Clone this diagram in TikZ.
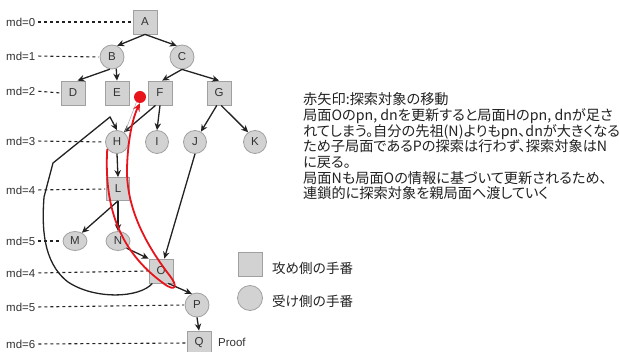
\documentclass[tikz,border=0pt]{standalone}
\usepackage{fontspec}
\setmainfont{Liberation Sans}
\newfontfamily\jp[RawFeature=+palt]{Noto Sans CJK JP}
\newfontfamily\jpm{Noto Sans CJK JP}
\usetikzlibrary{arrows.meta,shapes.geometric}
\definecolor{nodefill}{HTML}{D2D2D2}
\definecolor{nodeedge}{HTML}{A0A0A0}
\definecolor{ink}{HTML}{333333}
\definecolor{arr}{HTML}{222222}
\definecolor{redarr}{HTML}{E8141C}
\begin{document}
\begin{tikzpicture}[x=1pt,y=-1pt,
  lab/.style={font=\fontsize{11.5}{12}\selectfont, text=ink},
  sq/.style={lab, draw=nodeedge, fill=nodefill, line width=0.8pt, minimum size=24pt, inner sep=0pt},
  ci/.style={lab, circle, draw=nodeedge, fill=nodefill, line width=0.8pt, minimum size=24pt, inner sep=0pt},
  el/.style={lab, ellipse, draw=nodeedge, fill=nodefill, line width=0.8pt, minimum width=24pt, minimum height=19pt, inner sep=0pt},
  edge/.style={draw=arr, line width=1.3pt, -{Stealth[length=7pt,width=6.5pt]}},
  lvl/.style={draw=arr, line width=1.1pt, dash pattern=on 3pt off 3pt, shorten <=3pt, shorten >=1pt},
  mdl/.style={lab, anchor=west, inner sep=0pt},
  redpath/.style={draw=redarr, line width=1.8pt, -{Stealth[length=8pt,width=7pt]}},
  tl/.style={anchor=base west, inner sep=0pt, text=arr, font=\jp\fontsize{14.2}{16}\selectfont},
  lg/.style={anchor=west, inner sep=0pt, text=arr, font=\jpm\fontsize{13.5}{14}\selectfont}
]
\useasboundingbox (0,0) rectangle (620,352);
\fill[white] (0,0) rectangle (620,352);

% tree nodes
\node[sq] (A) at (145,22) {A};
\node[ci] (B) at (112,57) {B};
\node[ci] (C) at (182,57) {C};
\node[sq] (D) at (73,93) {D};
\node[sq] (E) at (117,93) {E};
\node[sq] (F) at (160,93) {F};
\node[sq] (G) at (219,93) {G};
\node[ci, minimum size=23pt] (H) at (117,142) {H};
\node[ci, minimum size=23pt] (I) at (157,142) {I};
\node[ci, minimum size=23pt] (J) at (195,142) {J};
\node[ci, minimum size=23pt] (K) at (255,142) {K};
\node[sq, minimum size=23pt] (L) at (118,189) {L};
\node[el] (M) at (75,241) {M};
\node[el] (N) at (118,241) {N};
\node[sq] (O) at (161,271) {O};
\node[ci, minimum size=24pt] (P) at (197,305) {P};
\node[sq] (Q) at (199,343) {Q};
\node[lab, anchor=west, inner sep=0pt] (proof) at (218,342) {Proof};
\node[circle, fill=redarr, minimum size=12pt, inner sep=0pt] (dot) at (140,97) {};

% md labels
\node[mdl] (m0) at (6,22) {md=0};
\node[mdl] (m1) at (6,56) {md=1};
\node[mdl] (m2) at (6,91) {md=2};
\node[mdl] (m3) at (6,141) {md=3};
\node[mdl] (m4) at (6,190) {md=4};
\node[mdl] (m5) at (6,241) {md=5};
\node[mdl] (m4b) at (6,273) {md=4};
\node[mdl] (m5b) at (6,307) {md=5};
\node[mdl] (m6) at (6,344) {md=6};
\draw[lvl] (m0.east) -- (A.west);
\draw[lvl] (m1.east) -- (B.west);
\draw[lvl] (m2.east) -- (D.west);
\draw[lvl] (m3.east) -- (H.west);
\draw[lvl] (m4.east) -- (L.west);
\draw[lvl] (m5.east) -- (M.west);
\draw[lvl] (m4b.east) -- (O.west);
\draw[lvl] (m5b.east) -- (P.west);
\draw[lvl] (m6.east) -- (Q.west);

% edges
\draw[edge] (A.south) -- (B.65);
\draw[edge] (A.south) -- (C.115);
\draw[edge] (B.260) -- (D.70);
\draw[edge] (B.290) -- (E.north);
\draw[edge] (C.south) -- (F.80);
\draw[edge] (C.south) -- (G.north);
\draw[edge] (F.250) -- (H.55);
\draw[edge] (F.south) -- (I.north);
\draw[edge] (G.260) -- (J.60);
\draw[edge] (G.280) -- (K.125);
\draw[edge] (H.south) -- (L.north);
\draw[edge] (L.south) -- (M.50);
\draw[edge] (L.south) -- (N.north);
\draw[edge] (J.south) -- (O.75);
\draw[edge] (N.320) -- (O.135);
\draw[edge] (O.300) -- (P.115);
\draw[edge] (P.south) -- (Q.north);
\draw[edge] (O.235) .. controls (140,298) and (95,300) .. (68,282)
  .. controls (42,262) and (42,225) .. (44,197) -- (53,163) -- (110,117) -- (H.north);

% red path
\draw[gray!70, line width=0.5pt] (dot.235) -- (H.50);
\draw[redpath] (H.215) .. controls (104,205) and (118,250) .. (163,283)
  .. controls (176,293) and (178,286) .. (170,276)
  .. controls (150,250) and (126,212) .. (127,168)
  .. controls (128,135) and (134,115) .. (dot.south);

% legend
\node[sq] (lsq) at (250,264) {};
\node[ci, minimum size=25pt] (lci) at (250,298) {};
\node[lg] (lt1) at (272,268) {攻め側の手番};
\node[lg] (lt2) at (272,301) {受け側の手番};

% text block
\node[tl] (t1) at (303,104.7) {赤矢印:探索対象の移動};
\node[tl] (t2) at (303,120.4) {局面Oのpn, dnを更新すると局面Hのpn, dnが足さ};
\node[tl] (t3) at (303,136.1) {れてしまう。自分の先祖(N)よりもpn、dnが大きくなる};
\node[tl] (t4) at (303,151.8) {ため子局面であるPの探索は行わず、探索対象はN};
\node[tl] (t5) at (303,167.5) {に戻る。};
\node[tl] (t6) at (303,183.2) {局面Nも局面Oの情報に基づいて更新されるため、};
\node[tl] (t7) at (303,198.9) {連鎖的に探索対象を親局面へ渡していく};
\end{tikzpicture}
\end{document}
